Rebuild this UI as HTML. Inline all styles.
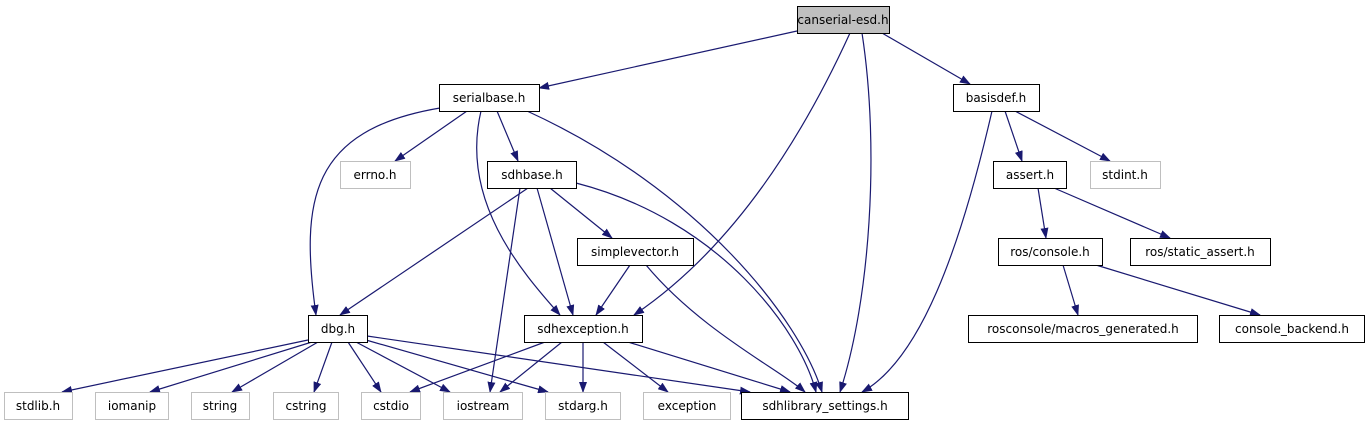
<!DOCTYPE html>
<html><head><meta charset="utf-8"><style>
html,body{margin:0;padding:0;background:#fff}
svg text{font-family:"DejaVu Sans","Liberation Sans",sans-serif;font-size:12px;text-anchor:middle}
</style></head><body>
<svg width="1371" height="427" viewBox="0 0 1371 427" xmlns="http://www.w3.org/2000/svg">
<defs><marker id="a" markerWidth="11" markerHeight="8" refX="10" refY="4" orient="auto" markerUnits="userSpaceOnUse"><path d="M0,0 L11,4 L0,8 z" fill="#191970"/></marker></defs>
<g fill="none" stroke="#191970" stroke-width="1.2" marker-end="url(#a)">
<path d="M797,31 L539,88"/>
<path d="M882,33 L970,84"/>
<path d="M850,33 Q760,230 634,315"/>
<path d="M862,33 C880,150 870,300 840,392"/>
<path d="M467,111 L395,161"/>
<path d="M497,111 L518,161"/>
<path d="M440,108 C310,130 300,200 316,315"/>
<path d="M481,111 C460,200 520,270 560,315"/>
<path d="M527,111 C700,190 800,320 822,392"/>
<path d="M1005,111 L1022,161"/>
<path d="M1015,111 L1110,161"/>
<path d="M992,111 C960,250 920,360 862,392"/>
<path d="M528,188 L340,315"/>
<path d="M520,188 L490,392"/>
<path d="M537,188 L573,315"/>
<path d="M550,188 L612,238"/>
<path d="M576,183 C720,220 800,330 816,392"/>
<path d="M1038,188 L1046,238"/>
<path d="M1054,188 L1170,238"/>
<path d="M630,265 L596,315"/>
<path d="M646,265 C700,330 780,370 805,392"/>
<path d="M1063,265 L1078,315"/>
<path d="M1096,265 L1260,315"/>
<path d="M308,340 L62,392"/>
<path d="M312,342 L150,392"/>
<path d="M318,342 L232,392"/>
<path d="M332,342 L314,392"/>
<path d="M348,342 L381,392"/>
<path d="M356,342 L450,392"/>
<path d="M366,340 L548,392"/>
<path d="M367,336 L750,392"/>
<path d="M545,342 L410,392"/>
<path d="M562,342 L500,392"/>
<path d="M583,342 L583,392"/>
<path d="M603,342 L668,392"/>
<path d="M628,342 L790,392"/>
</g>
<g stroke="#000" stroke-width="1" fill="#fff">
<rect x="797.5" y="6.5" width="92" height="27" fill="#bfbfbf"/>
<rect x="439.5" y="84.5" width="100" height="27"/>
<rect x="953.5" y="84.5" width="86" height="27"/>
<rect x="487.5" y="161.5" width="89" height="27"/>
<rect x="993.5" y="161.5" width="73" height="27"/>
<rect x="577.5" y="238.5" width="116" height="27"/>
<rect x="998.5" y="238.5" width="104" height="27"/>
<rect x="1130.5" y="238.5" width="140" height="27"/>
<rect x="308.5" y="315.5" width="59" height="27"/>
<rect x="524.5" y="315.5" width="118" height="27"/>
<rect x="968.5" y="315.5" width="229" height="27"/>
<rect x="1219.5" y="315.5" width="145" height="27"/>
<rect x="741.5" y="392.5" width="167" height="27"/>
</g>
<g stroke="#bfbfbf" stroke-width="1" fill="#fff">
<rect x="340.5" y="161.5" width="70" height="27"/>
<rect x="1090.5" y="161.5" width="70" height="27"/>
<rect x="4.5" y="392.5" width="68" height="27"/>
<rect x="95.5" y="392.5" width="73" height="27"/>
<rect x="191.5" y="392.5" width="58" height="27"/>
<rect x="273.5" y="392.5" width="65" height="27"/>
<rect x="361.5" y="392.5" width="59" height="27"/>
<rect x="443.5" y="392.5" width="79" height="27"/>
<rect x="545.5" y="392.5" width="75" height="27"/>
<rect x="643.5" y="392.5" width="87" height="27"/>
</g>
<g fill="#000">
<text x="843" y="24">canserial-esd.h</text>
<text x="489" y="102">serialbase.h</text>
<text x="996" y="102">basisdef.h</text>
<text x="375" y="179">errno.h</text>
<text x="532" y="179">sdhbase.h</text>
<text x="1125" y="179">stdint.h</text>
<text x="1030" y="179">assert.h</text>
<text x="635" y="256">simplevector.h</text>
<text x="1050" y="256">ros/console.h</text>
<text x="1200" y="256">ros/static_assert.h</text>
<text x="338" y="333">dbg.h</text>
<text x="583" y="333">sdhexception.h</text>
<text x="1083" y="333">rosconsole/macros_generated.h</text>
<text x="1292" y="333">console_backend.h</text>
<text x="38" y="410">stdlib.h</text>
<text x="132" y="410">iomanip</text>
<text x="220" y="410">string</text>
<text x="306" y="410">cstring</text>
<text x="391" y="410">cstdio</text>
<text x="483" y="410">iostream</text>
<text x="583" y="410">stdarg.h</text>
<text x="687" y="410">exception</text>
<text x="825" y="410">sdhlibrary_settings.h</text>
</g>
</svg>
</body></html>
